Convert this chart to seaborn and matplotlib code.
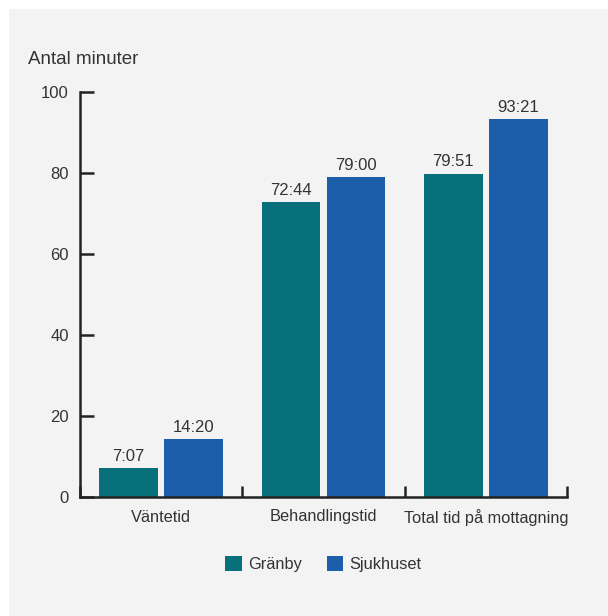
import matplotlib
matplotlib.use("Agg")
import matplotlib.pyplot as plt
from matplotlib.patches import Rectangle
import seaborn as sns
import pandas as pd

categories = ["Väntetid", "Behandlingstid", "Total tid på mottagning"]
groups = ["Gränby", "Sjukhuset"]
granby_min = [7 + 7/60, 72 + 44/60, 79 + 51/60]
sjukhuset_min = [14 + 20/60, 79.0, 93 + 21/60]
granby_labels = ["7:07", "72:44", "79:51"]
sjukhuset_labels = ["14:20", "79:00", "93:21"]
yticks = [0, 20, 40, 60, 80, 100]
colors = ["#08707b", "#1c5ea9"]

df = pd.DataFrame({
    "kategori": categories * 2,
    "plats": [groups[0]] * 3 + [groups[1]] * 3,
    "minuter": granby_min + sjukhuset_min,
})

sns.set_style("white")
plt.rcParams["font.family"] = ["Liberation Sans", "DejaVu Sans"]
txt = "#333333"
fs = 11.8

fig = plt.figure(figsize=(6.08, 6.16), dpi=100)
fig.patch.set_facecolor("white")
fig.patches.append(Rectangle((9/608, 0), 1, 1 - 9/616, transform=fig.transFigure,
                             facecolor="#f3f3f3", edgecolor="none", zorder=-10))
ax = fig.add_axes([80/608, 1 - 497/616, (567 - 80)/608, (497 - 92)/616])
ax.set_facecolor("none")

sns.barplot(data=df, x="kategori", y="minuter", hue="plats", palette=colors,
            saturation=1, width=0.8, gap=0.1, ax=ax, legend=True, linewidth=0)

for cont, labs in zip(ax.containers, [granby_labels, sjukhuset_labels]):
    ax.bar_label(cont, labels=labs, padding=3, fontsize=12, color=txt)

ax.set_ylim(0, 100)
ax.set_xlim(-0.5, 2.5)
ax.set_yticks(yticks)
ax.set_yticklabels([str(v) for v in yticks])
ax.set_xticks(range(3))
ax.set_xticklabels(categories)
ax.set_xticks([-0.5, 0.5, 1.5, 2.5], minor=True)
ax.tick_params(axis="x", which="major", bottom=True, length=0, pad=9,
               labelsize=fs, labelcolor=txt)
ax.tick_params(axis="x", which="minor", bottom=True, direction="in", length=8,
               width=1.8, color="#222222")
ax.tick_params(axis="y", which="major", left=True, direction="in", length=10,
               width=1.8, color="#222222", pad=8, labelsize=12, labelcolor=txt)
ax.set_xlabel("")
ax.set_ylabel("")
for s in ["top", "right"]:
    ax.spines[s].set_visible(False)
for s in ["left", "bottom"]:
    ax.spines[s].set_linewidth(1.8)
    ax.spines[s].set_color("#222222")
    ax.spines[s].set_capstyle("projecting")

ax.legend(loc="center", bbox_to_anchor=(0.5, -0.165), ncol=2, frameon=False,
          handlelength=1.0, handleheight=1.0, handletextpad=0.4, columnspacing=1.5,
          fontsize=fs, labelcolor=txt)

fig.text(28/608, 1 - 60/616, "Antal minuter", ha="left", va="center", fontsize=13.5, color=txt)

fig.savefig("out.png", dpi=100)
